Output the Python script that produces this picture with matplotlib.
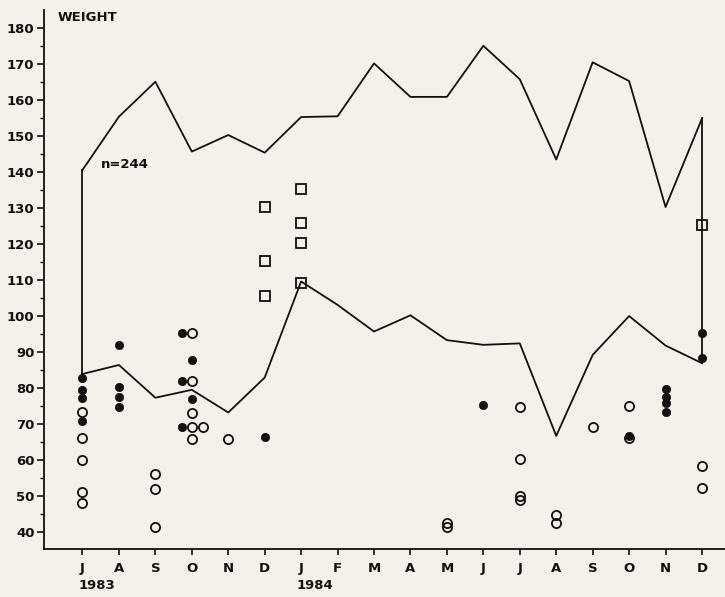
import numpy as np
import matplotlib
matplotlib.use("Agg")
import matplotlib.pyplot as plt
from matplotlib.ticker import MultipleLocator
import matplotlib.transforms as mtransforms

# Monthly weight ranges, July 1983 - December 1984
months = ['J', 'A', 'S', 'O', 'N', 'D', 'J', 'F', 'M',
          'A', 'M', 'J', 'J', 'A', 'S', 'O', 'N', 'D']
years = {0: '1983', 6: '1984'}

upper = [140.5, 155.3, 165.0, 145.6, 150.2, 145.3, 155.2, 155.4, 170.1,
         160.8, 160.8, 175.0, 165.7, 143.4, 170.4, 165.2, 130.2, 154.8]
lower = [83.8, 86.3, 77.2, 79.4, 73.1, 82.8, 109.5, 103.0, 95.6,
         100.1, 93.2, 91.9, 92.3, 66.6, 89.1, 99.9, 91.7, 86.8]

# individual weights: (month index, weight)
filled = [(0, 82.6), (0, 79.4), (0, 77.1), (0, 70.8),
          (1, 91.9), (1, 80.3), (1, 77.5), (1, 74.7),
          (3, 87.7), (3, 76.8),
          (5, 66.4), (11, 75.1), (15, 66.7),
          (16, 79.6), (16, 77.5), (16, 75.7), (16, 73.1),
          (17, 95.3), (17, 88.2)]
filled_left = [(3, 95.2), (3, 81.8), (3, 69.0)]

hollow = [(0, 73.25), (0, 66.0), (0, 60.0), (0, 51.1), (0, 48.0),
          (2, 56.0), (2, 51.8), (2, 41.2),
          (3, 95.2), (3, 81.8), (3, 72.9), (3, 69.0), (3, 65.75),
          (4, 65.7), (10, 42.5), (10, 41.2),
          (12, 74.6), (12, 60.3), (12, 50.0), (12, 48.8),
          (13, 44.6), (13, 42.3), (14, 69.0),
          (15, 75.0), (15, 66.0), (17, 58.25), (17, 52.2)]
hollow_right = [(3, 69.0)]

squares = [(5, 130.1), (5, 115.3), (5, 105.5),
           (6, 135.3), (6, 125.7), (6, 120.1), (6, 109.2),
           (17, 125.2)]

bg = '#f5f0ea'
ink = '#141010'
plt.rcParams['font.family'] = ['DejaVu Sans']
plt.rcParams['font.weight'] = 'bold'

fig = plt.figure(figsize=(7.25, 5.97), dpi=100, facecolor=bg)
ax = fig.add_axes([0.061, 0.080, 0.95, 0.903])
ax.set_facecolor(bg)

x = np.arange(len(months))
lw = 1.3
ax.plot(x, upper, color=ink, lw=lw)
ax.plot(x, lower, color=ink, lw=lw)
ax.plot([x[0], x[0]], [lower[0], upper[0]], color=ink, lw=lw)
ax.plot([x[-1], x[-1]], [lower[-1], upper[-1]], color=ink, lw=lw)


def pts(data, dx=0.0):
    arr = np.array(data, dtype=float)
    return arr[:, 0] + dx, arr[:, 1]


for data, dx in [(hollow, 0.0), (hollow_right, 0.3)]:
    px, py = pts(data, dx)
    ax.plot(px, py, 'o', ms=6.6, mfc='none', mec=ink, mew=1.3, ls='none')
for data, dx in [(filled, 0.0), (filled_left, -0.27)]:
    px, py = pts(data, dx)
    ax.plot(px, py, 'o', ms=6.0, mfc=ink, mec=ink, mew=0.5, ls='none')
px, py = pts(squares)
ax.plot(px, py, 's', ms=7.0, mfc='none', mec=ink, mew=1.3, ls='none')

ax.set_xlim(-1.05, 17.85)
ax.set_ylim(35.1, 184.9)

ax.spines['top'].set_visible(False)
ax.spines['right'].set_visible(False)
for s in ('left', 'bottom'):
    ax.spines[s].set_color(ink)
    ax.spines[s].set_linewidth(1.3)

ax.yaxis.set_minor_locator(MultipleLocator(5))
ax.set_yticks(np.arange(40, 181, 10))
ax.tick_params(axis='y', which='major', length=5, width=1.2, colors=ink,
               labelsize=9.5, pad=2)
ax.tick_params(axis='y', which='minor', length=3, width=1.0, colors=ink)
ax.set_xticks(x)
ax.set_xticklabels(months)
ax.tick_params(axis='x', which='major', length=4, width=1.2, colors=ink,
               labelsize=9.5, pad=5)
for lbl in ax.get_xticklabels() + ax.get_yticklabels():
    lbl.set_fontweight('bold')

trans = mtransforms.blended_transform_factory(ax.transData, ax.transAxes)
for i, yr in years.items():
    ax.text(i - 0.12, -0.056, yr, transform=trans, ha='left', va='top',
            fontsize=9.5, fontweight='bold', color=ink)

ax.text(0.02, 0.998, 'WEIGHT', transform=ax.transAxes, ha='left', va='top',
        fontsize=9.5, fontweight='bold', color=ink)
ax.text(0.5, 142.1, 'n=244', ha='left', va='center', fontsize=9.5,
        fontweight='bold', color=ink)

fig.savefig('out.png', dpi=100, facecolor=bg)
